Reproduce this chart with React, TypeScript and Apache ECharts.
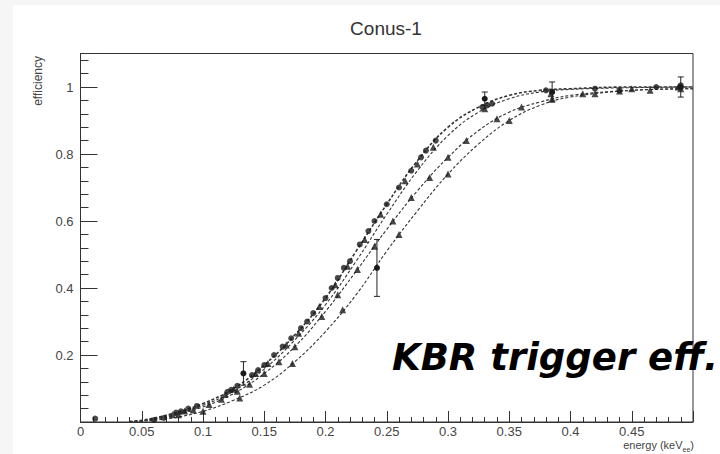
import React, { useEffect, useRef } from "react";
import * as echarts from "echarts";

// Fit curves
const curveX = [0.04, 0.05, 0.075, 0.1, 0.125, 0.15, 0.175, 0.2, 0.225, 0.25, 0.275, 0.3, 0.325, 0.35, 0.375, 0.4, 0.45, 0.5];
const fit1 = [0.002, 0.005, 0.025, 0.055, 0.1, 0.17, 0.26, 0.37, 0.51, 0.65, 0.78, 0.88, 0.94, 0.975, 0.99, 0.995, 1.0, 1.0];
const fit1b = [0.001, 0.004, 0.021, 0.05, 0.092, 0.158, 0.245, 0.35, 0.48, 0.62, 0.75, 0.855, 0.925, 0.965, 0.985, 0.993, 0.998, 1.0];
const fit2 = [0.001, 0.003, 0.018, 0.045, 0.085, 0.145, 0.225, 0.33, 0.45, 0.575, 0.69, 0.79, 0.87, 0.925, 0.955, 0.975, 0.99, 0.995];
const fit3 = [0.0005, 0.002, 0.012, 0.032, 0.065, 0.11, 0.18, 0.27, 0.38, 0.51, 0.63, 0.74, 0.83, 0.9, 0.945, 0.97, 0.99, 0.995];

// Measured points
const circleX = [0.012, 0.06, 0.068, 0.078, 0.082, 0.088, 0.095, 0.12, 0.123, 0.128, 0.14, 0.145, 0.15, 0.158, 0.165, 0.172, 0.18, 0.185, 0.19, 0.2, 0.205, 0.21, 0.215, 0.22, 0.228, 0.235, 0.24, 0.25, 0.26, 0.27, 0.278, 0.282, 0.29, 0.328, 0.332, 0.336, 0.38, 0.385, 0.42, 0.44, 0.47, 0.49];
const circleY = [0.01, 0.006, 0.012, 0.028, 0.032, 0.04, 0.048, 0.09, 0.096, 0.108, 0.14, 0.155, 0.17, 0.2, 0.225, 0.25, 0.28, 0.3, 0.325, 0.37, 0.4, 0.43, 0.46, 0.48, 0.53, 0.57, 0.6, 0.65, 0.7, 0.75, 0.79, 0.81, 0.84, 0.94, 0.945, 0.95, 0.99, 0.985, 0.995, 0.99, 1.0, 1.005];

const triAX = [0.075, 0.085, 0.118, 0.125, 0.143, 0.153, 0.168, 0.178, 0.195, 0.208, 0.218, 0.232, 0.245, 0.265, 0.275, 0.288, 0.33, 0.384, 0.45, 0.488];
const triAY = [0.022, 0.033, 0.082, 0.098, 0.145, 0.175, 0.23, 0.265, 0.345, 0.41, 0.465, 0.545, 0.62, 0.72, 0.77, 0.82, 0.935, 0.98, 0.995, 1.0];

const triBX = [0.08, 0.092, 0.105, 0.115, 0.128, 0.138, 0.15, 0.162, 0.175, 0.197, 0.21, 0.226, 0.24, 0.255, 0.27, 0.285, 0.3, 0.315, 0.34, 0.36, 0.385, 0.41, 0.44, 0.465, 0.49];
const triBY = [0.022, 0.036, 0.052, 0.068, 0.092, 0.113, 0.145, 0.18, 0.225, 0.315, 0.38, 0.455, 0.525, 0.6, 0.67, 0.73, 0.79, 0.84, 0.905, 0.94, 0.965, 0.98, 0.988, 0.99, 0.995];

const triCX = [0.1, 0.13, 0.173, 0.214, 0.26, 0.3, 0.35, 0.42];
const triCY = [0.032, 0.072, 0.175, 0.335, 0.56, 0.74, 0.9, 0.98];

const errX = [0.133, 0.242, 0.33, 0.385, 0.49];
const errY = [0.145, 0.46, 0.965, 0.985, 1.0];
const errE = [0.035, 0.085, 0.02, 0.03, 0.03];

const xTicks = [0, 0.05, 0.1, 0.15, 0.2, 0.25, 0.3, 0.35, 0.4, 0.45];
const yTicks = [0.2, 0.4, 0.6, 0.8, 1];

const FONT = "Liberation Sans";
const INK = "#1a1a1a";

function zip(xs: number[], ys: number[]) {
  return xs.map((x, i) => [x, ys[i]]);
}

export default function App() {
  const ref = useRef<HTMLDivElement>(null);
  useEffect(() => {
    if (!ref.current) return;
    const chart = echarts.init(ref.current, null, { renderer: "svg" });
    const fits = [fit1, fit1b, fit2, fit3].map((f, i) => ({
      type: "line",
      data: zip(curveX, f),
      showSymbol: false,
      smooth: 0.4,
      lineStyle: { color: "#333", width: i === 0 ? 1.6 : 1.1, type: [3, 2] },
      z: 3,
      silent: true,
    }));
    chart.setOption({
      animation: false,
      backgroundColor: "#ffffff",
      grid: {
        left: 67.5,
        right: 27,
        top: 48.5,
        bottom: 32,
        show: true,
        borderColor: "#333",
        borderWidth: 1,
        backgroundColor: "#ffffff",
      },
      xAxis: {
        type: "value",
        min: 0,
        max: 0.5,
        interval: 0.05,
        axisLine: { show: true, onZero: false, lineStyle: { color: "#333", width: 1 } },
        axisTick: { show: true, inside: true, length: 11, lineStyle: { color: "#333" } },
        minorTick: { show: true, splitNumber: 5, length: 5, lineStyle: { color: "#333" } },
        splitLine: { show: false },
        axisLabel: {
          margin: 3,
          fontFamily: FONT,
          fontSize: 13,
          color: "#444",
          formatter: (v: number) => {
            const t = xTicks.find((k) => Math.abs(k - v) < 1e-9);
            return t === undefined ? "" : String(t);
          },
        },
      },
      yAxis: {
        type: "value",
        min: 0,
        max: 1.1,
        interval: 0.2,
        axisLine: { show: true, onZero: false, lineStyle: { color: "#333", width: 1 } },
        axisTick: { show: true, inside: true, length: 17, lineStyle: { color: "#333" } },
        minorTick: { show: true, splitNumber: 5, length: 8, lineStyle: { color: "#333" } },
        splitLine: { show: false },
        axisLabel: {
          margin: 7,
          fontFamily: FONT,
          fontSize: 13,
          color: "#444",
          formatter: (v: number) => {
            const t = yTicks.find((k) => Math.abs(k - v) < 1e-9);
            return t === undefined ? "" : String(t);
          },
        },
      },
      graphic: [
        {
          type: "text",
          x: 373,
          y: 23,
          style: {
            text: "Conus-1",
            font: `19px '${FONT}'`,
            fill: "#333",
            textAlign: "center",
            textVerticalAlign: "middle",
          },
        },
        {
          type: "text",
          x: 25,
          y: 51,
          rotation: Math.PI / 2,
          style: {
            text: "efficiency",
            font: `12px '${FONT}'`,
            fill: "#444",
            textAlign: "right",
            textVerticalAlign: "middle",
          },
        },
        {
          type: "text",
          x: 681,
          y: 440,
          style: {
            text: "{a|energy (keV}{b|ee}{a|)}",
            textAlign: "right",
            textVerticalAlign: "middle",
            rich: {
              a: { fontFamily: FONT, fontSize: 11, fill: "#444", color: "#444", lineHeight: 16, verticalAlign: "middle" },
              b: { fontFamily: FONT, fontSize: 7, fill: "#444", color: "#444", lineHeight: 16, verticalAlign: "bottom", padding: [6, 0, 0, 0] },
            },
          },
        },
        {
          type: "text",
          x: 379,
          y: 352,
          z: 1,
          style: {
            text: "KBR trigger eff.",
            font: `italic bold 37px 'DejaVu Sans'`,
            fill: "#000",
            textAlign: "left",
            textVerticalAlign: "middle",
          },
        },
      ],
      series: [
        ...fits,
        {
          type: "scatter",
          data: zip(circleX, circleY),
          symbol: "circle",
          symbolSize: 6,
          itemStyle: { color: INK },
          z: 4,
        },
        {
          type: "scatter",
          data: zip(triAX, triAY),
          symbol: "triangle",
          symbolSize: 7,
          itemStyle: { color: INK },
          z: 4,
        },
        {
          type: "scatter",
          data: zip(triBX, triBY),
          symbol: "triangle",
          symbolSize: 7,
          itemStyle: { color: INK },
          z: 4,
        },
        {
          type: "scatter",
          data: zip(triCX, triCY),
          symbol: "triangle",
          symbolSize: 7,
          itemStyle: { color: INK },
          z: 4,
        },
        {
          type: "custom",
          data: errX.map((x, i) => [x, errY[i], errE[i]]),
          z: 5,
          renderItem: (params: any, api: any) => {
            const x = api.value(0);
            const y = api.value(1);
            const e = api.value(2);
            const top = api.coord([x, y + e]);
            const bot = api.coord([x, y - e]);
            const mid = api.coord([x, y]);
            const st = { stroke: "#222", lineWidth: 1 };
            return {
              type: "group",
              children: [
                { type: "line", shape: { x1: top[0], y1: top[1], x2: bot[0], y2: bot[1] }, style: st },
                { type: "line", shape: { x1: top[0] - 3, y1: top[1], x2: top[0] + 3, y2: top[1] }, style: st },
                { type: "line", shape: { x1: bot[0] - 3, y1: bot[1], x2: bot[0] + 3, y2: bot[1] }, style: st },
                { type: "circle", shape: { cx: mid[0], cy: mid[1], r: 3 }, style: { fill: INK } },
              ],
            };
          },
        },
      ],
    });
    return () => chart.dispose();
  }, []);
  return (
    <div
      style={{
        position: "fixed",
        left: 0,
        top: 0,
        width: 720,
        height: 454,
        background: "#f6f6f6",
        overflow: "hidden",
      }}
    >
      <div
        ref={ref}
        style={{ position: "absolute", left: 13, top: 5, width: 707, height: 449 }}
      />
    </div>
  );
}
